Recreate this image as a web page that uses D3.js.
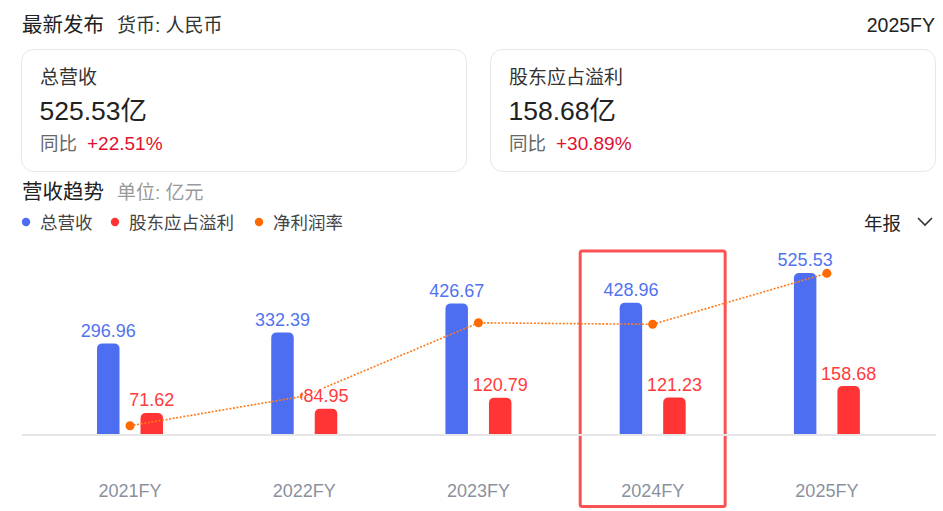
<!DOCTYPE html>
<html><head><meta charset="utf-8">
<script src="https://cdn.jsdelivr.net/npm/d3@7"></script>
<style>
html,body{margin:0;padding:0;background:#fff;}
svg{display:block;font-family:"Liberation Sans","Noto Sans CJK SC",Arial,sans-serif;}
</style></head>
<body>
<svg id="chart" width="943" height="511"></svg>
<script>
const years = ["2021FY","2022FY","2023FY","2024FY","2025FY"];
const revenue = [296.96, 332.39, 426.67, 428.96, 525.53];
const profit = [71.62, 84.95, 120.79, 121.23, 158.68];
const netMargin = [24.12, 25.30, 28.22, 28.16, 30.19];
const highlightYear = "2024FY";
const legendItems = ["总营收","股东应占溢利","净利润率"];
const cards = [
  {title:"总营收", value:"525.53亿", yoy:"+22.51%"},
  {title:"股东应占溢利", value:"158.68亿", yoy:"+30.89%"}
];

const C = {blue:"#4d6ef1", red:"#ff3434", orange:"#ff6a00", blueText:"#5273f0", redText:"#ff3b3b", axis:"#8a919e"};
const svg = d3.select("#chart");

// header
svg.append("text").attr("x",22).attr("y",32).attr("font-size",20.5).attr("fill","#222").text("最新发布");
svg.append("text").attr("x",117).attr("y",32).attr("font-size",19).attr("fill","#333").text("货币: 人民币");
svg.append("text").attr("x",935).attr("y",32).attr("font-size",19.5).attr("fill","#222").attr("text-anchor","end").text("2025FY");

// cards
const cardX = [21.5, 490.5];
cards.forEach((c,i)=>{
  const g = svg.append("g").attr("transform",`translate(${cardX[i]},49.5)`);
  g.append("rect").attr("width",445).attr("height",122).attr("rx",12).attr("fill","#fff").attr("stroke","#e8e8e8").attr("stroke-width",1);
  g.append("text").attr("x",18.5).attr("y",34).attr("font-size",19).attr("fill","#333").text(c.title);
  g.append("text").attr("x",18).attr("y",70.5).attr("font-size",26.5).attr("fill","#222").text(c.value);
  g.append("text").attr("x",18.5).attr("y",100.5).attr("font-size",18.5).attr("fill","#666").text("同比");
  g.append("text").attr("x",65.5).attr("y",100.5).attr("font-size",19).attr("fill","#e2102f").text(c.yoy);
});

// section title
svg.append("text").attr("x",22).attr("y",199).attr("font-size",20.5).attr("fill","#222").text("营收趋势");
svg.append("text").attr("x",117).attr("y",199).attr("font-size",19).attr("fill","#999").text("单位: 亿元");

// legend
const legendX = [26,115,259];
const legendColors = [C.blue,C.red,C.orange];
legendItems.forEach((t,i)=>{
  svg.append("circle").attr("cx",legendX[i]).attr("cy",222).attr("r",4.2).attr("fill",legendColors[i]);
  svg.append("text").attr("x",legendX[i]+14).attr("y",229).attr("font-size",17.5).attr("fill","#444").text(t);
});
svg.append("text").attr("x",864).attr("y",230).attr("font-size",18.5).attr("fill","#222").text("年报");
svg.append("path").attr("d","M918,218 L925,225 L932,218").attr("fill","none").attr("stroke","#333").attr("stroke-width",1.6);

// scales
const x = d3.scaleBand().domain(years).range([42.9,914]).padding(0);
const bw = x.bandwidth();
const x1 = d3.scaleBand().domain(["rev","profit"]).range([-33,33]).paddingInner(0.483).paddingOuter(0);
const y = d3.scaleLinear().domain([0,600]).range([435,250]);
const y2 = d3.scaleLinear().domain([23.75,31.12]).range([435,250]);
const cx = d => x(d)+bw/2;

const data = years.map((yr,i)=>({yr, rev:revenue[i], profit:profit[i], margin:netMargin[i]}));

function topRounded(x0,y0,w,h,r){
  r=Math.min(r,h,w/2);
  return `M${x0},${y0+h} L${x0},${y0+r} Q${x0},${y0} ${x0+r},${y0} L${x0+w-r},${y0} Q${x0+w},${y0} ${x0+w},${y0+r} L${x0+w},${y0+h} Z`;
}

// highlight box
svg.append("rect").attr("x",cx(highlightYear)-bw*0.416).attr("y",251).attr("width",bw*0.832).attr("height",255.5)
  .attr("rx",2).attr("fill","none").attr("stroke","#fa5252").attr("stroke-width",3);

// bars
const series = [{k:"rev",color:C.blue,text:C.blueText},{k:"profit",color:C.red,text:C.redText}];
series.forEach(s=>{
  svg.append("g").selectAll("path").data(data).join("path")
    .attr("d",d=>{const bx=cx(d.yr)+x1(s.k); return topRounded(bx,y(d[s.k]),x1.bandwidth(),y(0)-y(d[s.k]),5.5);})
    .attr("fill",s.color);
});

// baseline
svg.append("line").attr("x1",22).attr("x2",936).attr("y1",y(0)).attr("y2",y(0)).attr("stroke","#e6e6e6").attr("stroke-width",2);

// margin line
const line = d3.line().x(d=>cx(d.yr)).y(d=>y2(d.margin));
svg.append("path").datum(data).attr("d",line).attr("fill","none").attr("stroke","#ff7a1a").attr("stroke-width",1.6).attr("stroke-dasharray","2,1.6");
svg.append("g").selectAll("circle").data(data).join("circle")
  .attr("cx",d=>cx(d.yr)).attr("cy",d=>y2(d.margin)).attr("r",4.5).attr("fill",C.orange);

// value labels
series.forEach(s=>{
  svg.append("g").selectAll("text").data(data).join("text")
    .attr("x",d=>cx(d.yr)+x1(s.k)+x1.bandwidth()/2).attr("y",d=>y(d[s.k])-6.5)
    .attr("text-anchor","middle").attr("font-size",18).attr("fill",s.text)
    .attr("stroke","#fff").attr("stroke-width",4).attr("paint-order","stroke").attr("stroke-linejoin","round")
    .text(d=>d[s.k].toFixed(2));
});

// x axis labels
svg.append("g").selectAll("text").data(years).join("text")
  .attr("x",d=>cx(d)).attr("y",496.5).attr("text-anchor","middle").attr("font-size",18).attr("fill",C.axis).text(d=>d);
</script>
</body></html>
